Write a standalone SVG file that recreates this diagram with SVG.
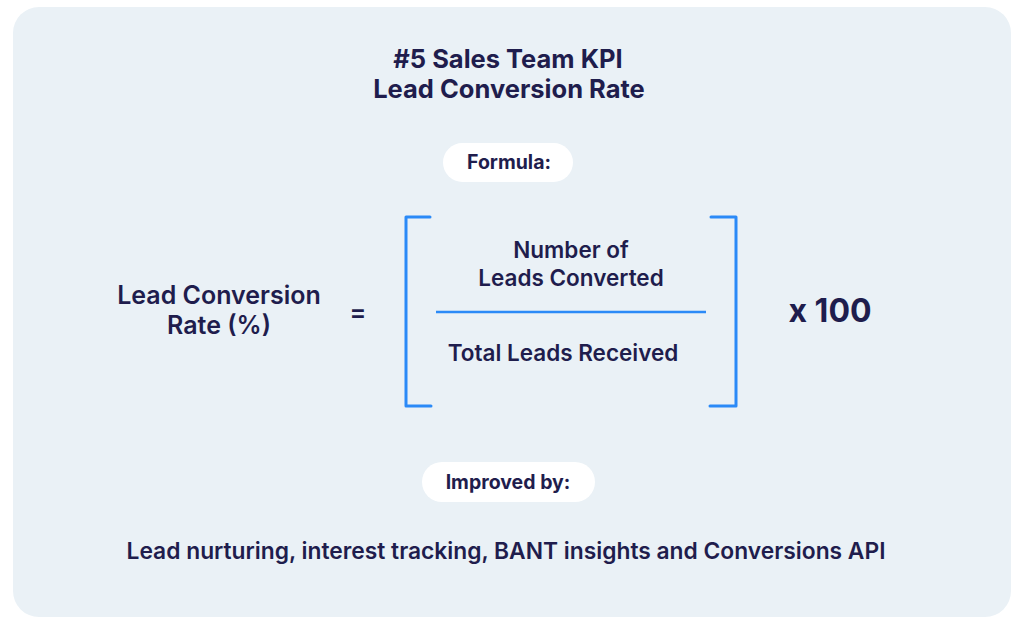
<svg xmlns="http://www.w3.org/2000/svg" width="1024" height="625" viewBox="0 0 1024 625">
<style>
text{font-family:Inter,"Noto Sans","Liberation Sans",sans-serif;fill:#1f1d4d;text-anchor:middle}
.b{font-weight:700}
.m{font-weight:600}
.pill{fill:#ffffff}
.br{fill:none;stroke:#2b8af7;stroke-width:3;stroke-linecap:round;stroke-linejoin:round}
</style>
<rect x="13" y="7" width="998" height="610" rx="26" fill="#eaf1f6"/>
<g id="title">
<text class="b" x="508" y="68" font-size="25.5">#5 Sales Team KPI</text>
<text class="b" x="509" y="98" font-size="25.5">Lead Conversion Rate</text>
</g>
<g id="formula-label">
<rect class="pill" x="443" y="143" width="130" height="39" rx="19.5"/>
<text class="b" x="509" y="169" font-size="19.5">Formula:</text>
</g>
<g id="lhs">
<text class="m" x="219" y="304" font-size="25">Lead Conversion</text>
<text class="m" x="219" y="334" font-size="25">Rate (%)</text>
</g>
<g id="equals"><text class="m" x="358" y="321" font-size="25">=</text></g>
<g id="fraction">
<path class="br" d="M430,217 H406 V406 H431"/>
<path class="br" d="M711,217 H736 V406 H710"/>
<line x1="436" y1="312" x2="706" y2="312" stroke="#2b8af7" stroke-width="2.5"/>
<text class="m" x="571" y="258" font-size="22.5">Number of</text>
<text class="m" x="571" y="286" font-size="22.5">Leads Converted</text>
<text class="m" x="563" y="361" font-size="22.5">Total Leads Received</text>
</g>
<g id="multiplier"><text class="b" x="830" y="322" font-size="32">x 100</text></g>
<g id="improved-label">
<rect class="pill" x="422" y="462" width="173" height="40" rx="20"/>
<text class="b" x="508" y="489" font-size="19.5">Improved by:</text>
</g>
<g id="improvements">
<text class="m" x="506" y="559" font-size="22.8">Lead nurturing, interest tracking, BANT insights and Conversions API</text>
</g>
<g id="connectors"></g>
</svg>
